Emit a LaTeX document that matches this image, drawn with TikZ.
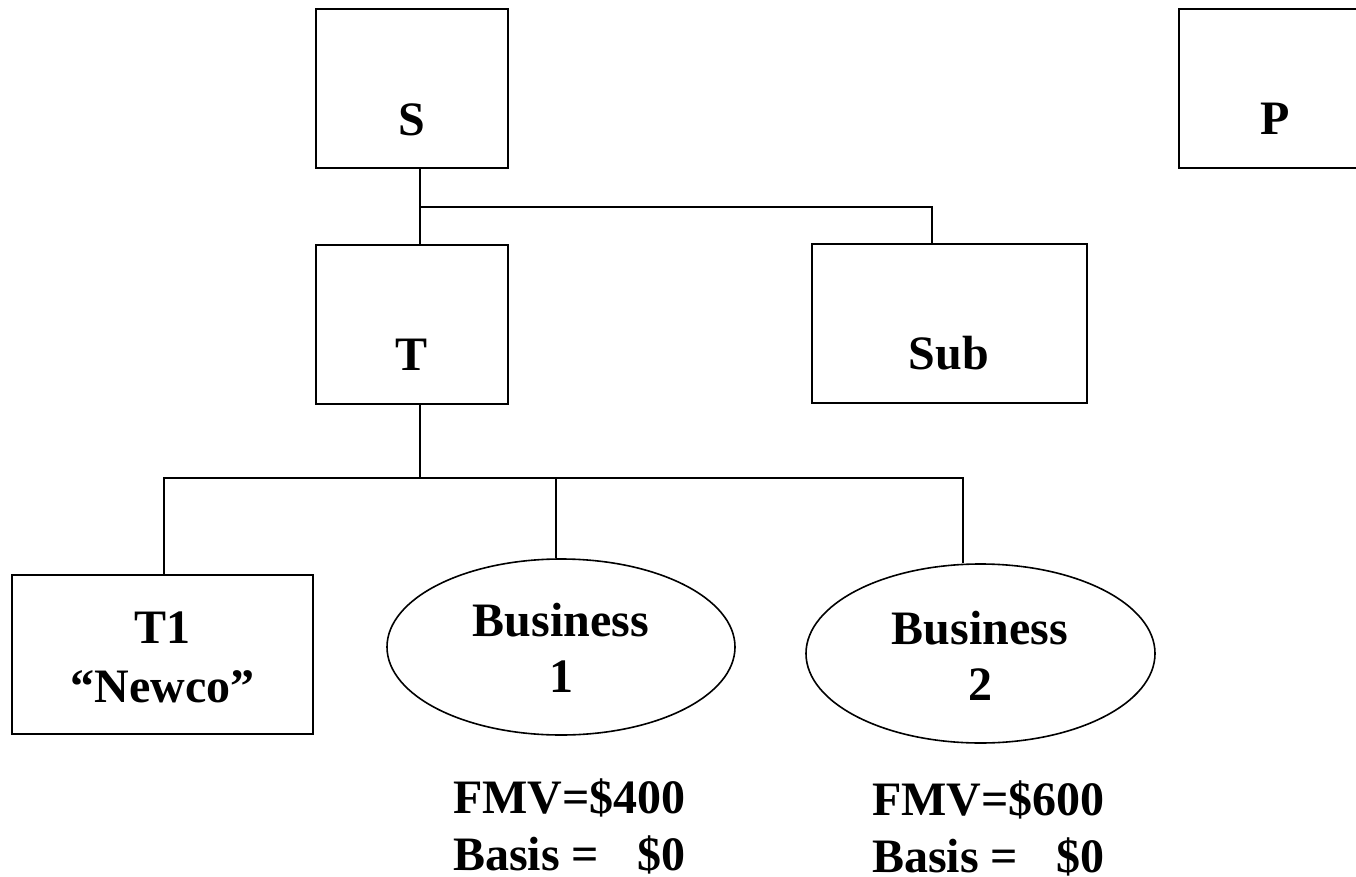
\documentclass[tikz,border=0pt]{standalone}
\usepackage{fontspec}
\setmainfont{Liberation Serif}
\usetikzlibrary{shapes.geometric}
\begin{document}
\begin{tikzpicture}[x=1pt,y=-1pt,
  entity/.style={draw, line width=2.8pt, rectangle, inner sep=0pt},
  asset/.style={draw, line width=1.6pt, ellipse, inner sep=0pt},
  link/.style={line width=2.4pt},
  lbl/.style={font=\fontsize{48}{56}\selectfont\bfseries, inner sep=0pt, anchor=base}]
\clip (0,0) rectangle (1356,877);

% corporations
\node[entity, minimum width=192pt, minimum height=159pt] (S) at (412,88.5) {};
\node[entity, minimum width=192pt, minimum height=159pt] (P) at (1275,88.5) {};
\node[entity, minimum width=192pt, minimum height=159pt] (T) at (412,324.5) {};
\node[entity, minimum width=275pt, minimum height=159pt] (Sub) at (949.5,323.5) {};
\node[entity, minimum width=301pt, minimum height=159pt] (T1) at (162.5,654.5) {};

% businesses
\node[asset, minimum width=348pt, minimum height=176pt] (B1) at (561,647) {};
\node[asset, minimum width=349pt, minimum height=179pt] (B2) at (980.5,653.5) {};

% labels
\node[lbl] (Slbl) at (412,136) {S};
\node[lbl] (Plbl) at (1275,135) {P};
\node[lbl] (Tlbl) at (412,370) {T};
\node[lbl] (Sublbl) at (949,369) {Sub};
\node[lbl] (T1lbl) at (162.5,643) {\fontsize{48}{59}\selectfont\begin{tabular}[t]{@{}c@{}}T1\\“Newco”\end{tabular}};
\node[lbl] (B1lbl) at (561,636) {\begin{tabular}[t]{@{}c@{}}Business\\1\end{tabular}};
\node[lbl] (B2lbl) at (980,644) {\begin{tabular}[t]{@{}c@{}}Business\\2\end{tabular}};

% values
\node[lbl, anchor=base west] (V1) at (453,813)
  {\fontsize{48}{57}\selectfont\begin{tabular}[t]{@{}l@{}r@{}}\multicolumn{2}{@{}l@{}}{FMV=\$400}\\Basis = & \$0\end{tabular}};
\node[lbl, anchor=base west] (V2) at (872,815)
  {\fontsize{48}{57}\selectfont\begin{tabular}[t]{@{}l@{}r@{}}\multicolumn{2}{@{}l@{}}{FMV=\$600}\\Basis = & \$0\end{tabular}};

% ownership lines
\coordinate (j1) at (420,207);
\coordinate (j2) at (420,478);
\draw[link] ([xshift=8pt]S.south) -- (j1) -- ([xshift=8pt]T.north);
\draw[link] (j1) -| ([xshift=-17.5pt]Sub.north);
\draw[link] ([xshift=8pt]T.south) -- (j2);
\draw[link] (j2) -| ([xshift=1.5pt]T1.north);
\draw[link] (j2) -| ([xshift=-17.5pt]B2.north);
\draw[link] (j2 -| 556,0) -- ([xshift=-5pt]B1.north);
\end{tikzpicture}
\end{document}
